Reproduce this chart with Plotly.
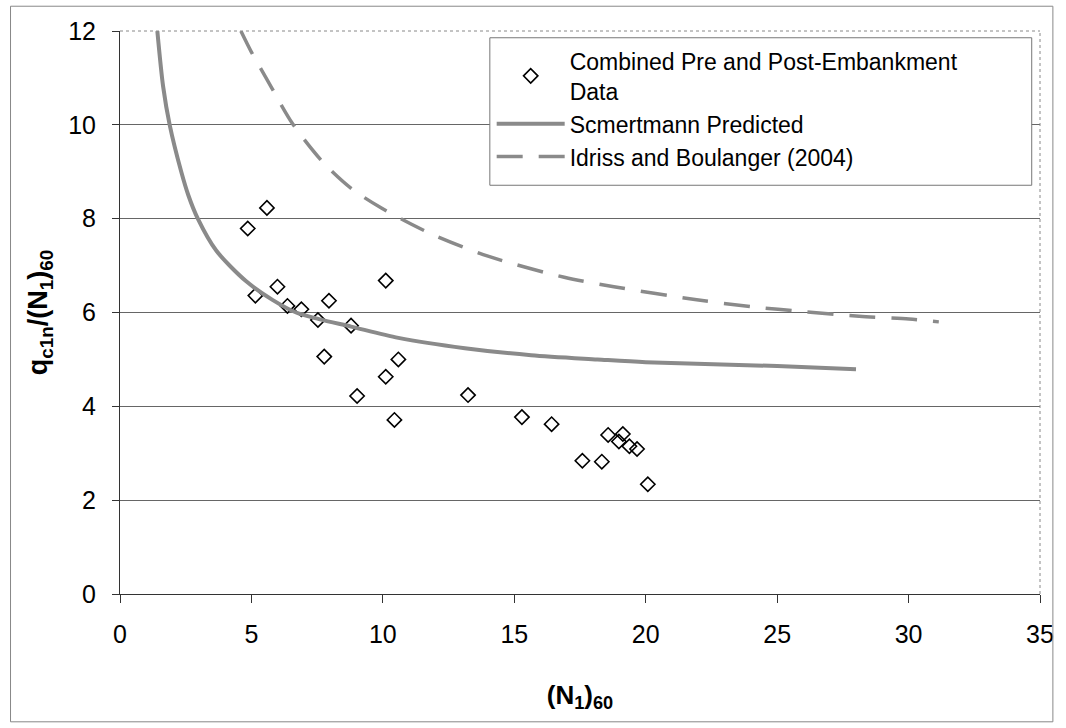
import plotly.graph_objects as go

data_x = [5.59, 4.86, 5.99, 5.15, 6.37, 6.90, 7.95, 7.53, 10.11, 8.79, 7.77, 10.59, 10.11,
          9.02, 13.24, 10.44, 15.29, 16.42, 18.57, 19.13, 18.98, 19.38, 19.67, 17.59, 18.33, 20.08]
data_y = [8.23, 7.79, 6.55, 6.36, 6.14, 6.07, 6.25, 5.84, 6.68, 5.72, 5.06, 5.00, 4.63,
          4.22, 4.24, 3.71, 3.77, 3.62, 3.39, 3.41, 3.25, 3.15, 3.09, 2.84, 2.82, 2.34]

schm_x = [1.42, 1.64, 1.89, 2.33, 2.60, 2.96, 3.66, 4.79, 5.80, 6.70, 7.57, 8.79, 10.59, 13.12,
          15.64, 18.16, 20.0, 25.0, 28.0]
schm_y = [12.0, 10.82, 10.0, 9.0, 8.5, 8.0, 7.32, 6.67, 6.27, 6.0, 5.86, 5.70, 5.46, 5.24,
          5.09, 5.00, 4.94, 4.86, 4.79]

ib_x = [4.60, 5.00, 5.61, 6.56, 7.76, 8.83, 9.96, 11.09, 11.98, 14.0, 16.9, 18.79, 21.94,
        24.09, 25.98, 28.12, 30.02, 31.15]
ib_y = [12.0, 11.55, 10.95, 10.03, 9.18, 8.63, 8.22, 7.88, 7.64, 7.20, 6.75, 6.55, 6.27,
        6.12, 6.02, 5.92, 5.86, 5.80]

x_ticks = [0, 5, 10, 15, 20, 25, 30, 35]
y_ticks = [0, 2, 4, 6, 8, 10, 12]

FONT = "Liberation Sans, Arial, sans-serif"

fig = go.Figure()
fig.add_trace(go.Scatter(
    x=data_x, y=data_y, mode="markers",
    name="Combined Pre and Post-Embankment<br>Data",
    marker=dict(symbol="diamond-open", size=11, color="black", line=dict(width=1.6, color="black")),
))
fig.add_trace(go.Scatter(
    x=schm_x, y=schm_y, mode="lines", name="Scmertmann Predicted",
    line=dict(color="#8a8a8a", width=4, shape="spline", smoothing=0.8),
))
fig.add_trace(go.Scatter(
    x=ib_x, y=ib_y, mode="lines", name="Idriss and Boulanger (2004)",
    line=dict(color="#8a8a8a", width=3.5, dash="26px,16px", shape="spline", smoothing=0.8),
))

fig.update_layout(
    width=1066, height=728,
    margin=dict(l=120, r=21, t=31, b=134),
    paper_bgcolor="white", plot_bgcolor="white",
    font=dict(family=FONT, size=24, color="black"),
    showlegend=True,
    legend=dict(
        x=0.404, y=0.985, xanchor="left", yanchor="top",
        bgcolor="rgba(0,0,0,0)", borderwidth=0,
        font=dict(family=FONT, size=23, color="black"),
        tracegroupgap=0, itemwidth=68,
    ),
    shapes=[
        # outer chart border
        dict(type="rect", xref="paper", yref="paper",
             x0=-0.119, x1=1.014, y0=-0.227, y1=1.044,
             line=dict(color="#888888", width=1)),
        # legend box
        dict(type="rect", xref="paper", yref="paper", layer="above",
             x0=0.402, x1=0.991, y0=0.726, y1=0.988,
             fillcolor="white", line=dict(color="#777777", width=1)),
        # right and top plot-area border
        dict(type="line", xref="paper", yref="paper", x0=1, x1=1, y0=0, y1=1,
             line=dict(color="#888888", width=1, dash="dot")),
        dict(type="line", xref="paper", yref="paper", x0=0, x1=1, y0=1, y1=1,
             line=dict(color="#888888", width=1, dash="dot")),
    ],
)
fig.update_xaxes(
    range=[0, 35], tickvals=x_ticks, ticktext=[str(v) for v in x_ticks],
    showgrid=False, zeroline=False,
    showline=True, linecolor="#333333", linewidth=1, mirror=False,
    ticks="outside", ticklen=8, tickcolor="#333333",
    tickfont=dict(size=25), ticklabelstandoff=10,
    title=dict(text="<b>(N<sub>1</sub>)<sub>60</sub></b>", font=dict(size=26), standoff=38),
)
fig.update_yaxes(
    range=[0, 12], tickvals=y_ticks, ticktext=[str(v) for v in y_ticks],
    showgrid=True, gridcolor="#666666", gridwidth=1, zeroline=False,
    showline=True, linecolor="#333333", linewidth=1, mirror=False,
    ticks="outside", ticklen=7, tickcolor="#333333",
    tickfont=dict(size=25), ticklabelstandoff=11,
    title=dict(text="<b>q<sub>c1n</sub>/(N<sub>1</sub>)<sub>60</sub></b>", font=dict(size=27), standoff=12),
)

fig.write_html("out.html")
